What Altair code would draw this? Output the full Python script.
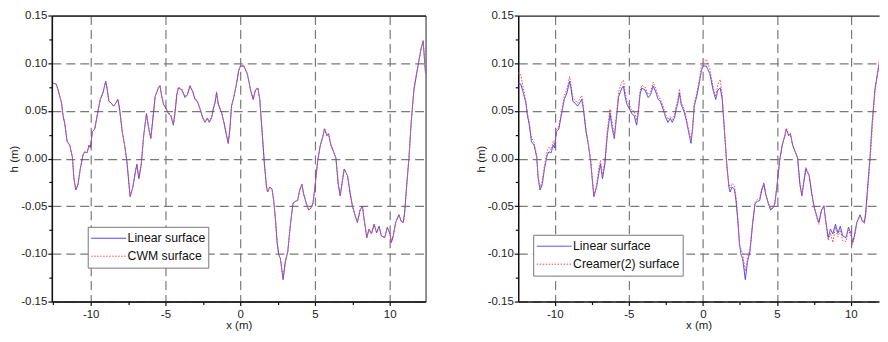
import altair as alt
import pandas as pd

# ---- data ----
x_vals = [-12.5, -12.3, -12.18, -11.95, -11.85, -11.73, -11.58, -11.4, -11.22, -11.13,
          -11.0, -10.85, -10.69, -10.51, -10.4, -10.25, -10.11, -10.02, -9.89, -9.73,
          -9.51, -9.36, -9.18, -9.0, -8.91, -8.78, -8.62, -8.47, -8.33, -8.18,
          -8.07, -7.89, -7.73, -7.58, -7.44, -7.36, -7.18, -7.0, -6.91, -6.78,
          -6.62, -6.45, -6.27, -6.1, -5.98, -5.8, -5.69, -5.47, -5.36, -5.25,
          -5.13, -4.95, -4.8, -4.64, -4.47, -4.36, -4.24, -4.13, -3.91, -3.69,
          -3.53, -3.36, -3.18, -3.02, -2.87, -2.69, -2.51, -2.36, -2.2, -2.07,
          -1.91, -1.8, -1.69, -1.58, -1.47, -1.24, -1.09, -0.91, -0.8, -0.69,
          -0.58, -0.42, -0.24, -0.1, 0.02, 0.24, 0.47, 0.58, 0.69, 0.87,
          1.02, 1.18, 1.31, 1.4, 1.53, 1.62, 1.76, 1.84, 1.98, 2.13,
          2.24, 2.36, 2.47, 2.58, 2.69, 2.87, 3.02, 3.18, 3.36, 3.53,
          3.69, 3.84, 3.98, 4.13, 4.24, 4.42, 4.58, 4.73, 4.87, 5.02,
          5.18, 5.36, 5.53, 5.64, 5.8, 5.91, 6.07, 6.4, 6.56, 6.69,
          6.84, 6.96, 7.18, 7.36, 7.51, 7.73, 7.84, 8.02, 8.18, 8.29,
          8.47, 8.62, 8.78, 8.96, 9.13, 9.29, 9.44, 9.67, 9.84, 10.02,
          10.11, 10.24, 10.4, 10.62, 10.78, 10.91, 11.0, 11.13, 11.29, 11.44,
          11.62, 11.8, 11.96, 12.11, 12.24, 12.4]

linear_h = [0.079, 0.078, 0.072, 0.058, 0.045, 0.036, 0.018, 0.014, 0.001, -0.020,
            -0.033, -0.027, -0.010, 0.004, 0.007, 0.006, 0.014, 0.011, 0.028, 0.031,
            0.050, 0.062, 0.069, 0.081, 0.074, 0.060, 0.058, 0.055, 0.058, 0.062,
            0.052, 0.028, 0.014, -0.003, -0.027, -0.040, -0.030, -0.013, -0.006, -0.021,
            -0.006, 0.025, 0.047, 0.030, 0.021, 0.048, 0.065, 0.074, 0.076, 0.065,
            0.057, 0.052, 0.047, 0.045, 0.035, 0.048, 0.067, 0.074, 0.072, 0.064,
            0.067, 0.076, 0.070, 0.062, 0.060, 0.052, 0.043, 0.038, 0.042, 0.038,
            0.043, 0.052, 0.058, 0.069, 0.057, 0.048, 0.038, 0.024, 0.016, 0.031,
            0.055, 0.065, 0.079, 0.092, 0.097, 0.097, 0.089, 0.081, 0.072, 0.062,
            0.072, 0.074, 0.062, 0.042, 0.014, -0.006, -0.030, -0.035, -0.030, -0.032,
            -0.044, -0.064, -0.088, -0.101, -0.105, -0.127, -0.108, -0.098, -0.069, -0.047,
            -0.045, -0.044, -0.033, -0.027, -0.037, -0.047, -0.054, -0.052, -0.047, -0.027,
            -0.003, 0.014, 0.023, 0.031, 0.024, 0.026, 0.014, 0.001, -0.027, -0.039,
            -0.023, -0.011, -0.018, -0.037, -0.050, -0.062, -0.067, -0.054, -0.050, -0.064,
            -0.083, -0.074, -0.079, -0.069, -0.078, -0.071, -0.081, -0.083, -0.072, -0.079,
            -0.088, -0.081, -0.067, -0.059, -0.066, -0.067, -0.057, -0.030, 0.001, 0.038,
            0.072, 0.089, 0.103, 0.116, 0.123, 0.089]

cwm_h = [0.079, 0.078, 0.072, 0.058, 0.045, 0.036, 0.018, 0.014, 0.001, -0.020,
         -0.033, -0.027, -0.010, 0.004, 0.007, 0.006, 0.014, 0.011, 0.028, 0.031,
         0.050, 0.062, 0.069, 0.081, 0.074, 0.060, 0.058, 0.055, 0.058, 0.062,
         0.052, 0.028, 0.014, -0.003, -0.027, -0.040, -0.030, -0.013, -0.006, -0.021,
         -0.006, 0.025, 0.047, 0.030, 0.021, 0.048, 0.065, 0.075, 0.077, 0.066,
         0.058, 0.053, 0.048, 0.046, 0.036, 0.049, 0.068, 0.075, 0.073, 0.065,
         0.068, 0.077, 0.071, 0.063, 0.061, 0.053, 0.044, 0.039, 0.043, 0.039,
         0.044, 0.053, 0.059, 0.070, 0.058, 0.048, 0.038, 0.024, 0.016, 0.031,
         0.055, 0.065, 0.079, 0.093, 0.097, 0.098, 0.089, 0.081, 0.072, 0.062,
         0.072, 0.074, 0.062, 0.042, 0.014, -0.006, -0.030, -0.035, -0.030, -0.032,
         -0.044, -0.064, -0.088, -0.101, -0.105, -0.126, -0.108, -0.098, -0.069, -0.047,
         -0.045, -0.044, -0.033, -0.027, -0.037, -0.047, -0.054, -0.052, -0.047, -0.027,
         -0.003, 0.014, 0.023, 0.032, 0.024, 0.026, 0.014, 0.001, -0.027, -0.039,
         -0.023, -0.011, -0.018, -0.037, -0.050, -0.062, -0.067, -0.054, -0.050, -0.064,
         -0.083, -0.074, -0.079, -0.069, -0.078, -0.071, -0.081, -0.083, -0.072, -0.079,
         -0.088, -0.081, -0.067, -0.059, -0.066, -0.067, -0.057, -0.030, 0.001, 0.038,
         0.072, 0.089, 0.103, 0.116, 0.124, 0.089]

creamer_h = [0.090, 0.088, 0.078, 0.060, 0.048, 0.038, 0.022, 0.017, 0.003, -0.018,
             -0.030, -0.024, -0.006, 0.008, 0.012, 0.009, 0.018, 0.014, 0.030, 0.034,
             0.052, 0.066, 0.073, 0.086, 0.078, 0.064, 0.061, 0.058, 0.062, 0.066,
             0.055, 0.030, 0.016, -0.001, -0.025, -0.038, -0.028, -0.008, -0.002, -0.018,
             -0.002, 0.030, 0.052, 0.035, 0.025, 0.052, 0.070, 0.080, 0.082, 0.070,
             0.060, 0.056, 0.050, 0.050, 0.040, 0.052, 0.071, 0.077, 0.075, 0.067,
             0.070, 0.080, 0.073, 0.066, 0.062, 0.055, 0.046, 0.041, 0.044, 0.041,
             0.046, 0.055, 0.062, 0.073, 0.060, 0.051, 0.040, 0.027, 0.020, 0.034,
             0.058, 0.068, 0.083, 0.096, 0.101, 0.104, 0.094, 0.085, 0.075, 0.065,
             0.078, 0.083, 0.066, 0.044, 0.012, -0.010, -0.026, -0.031, -0.026, -0.029,
             -0.040, -0.062, -0.092, -0.095, -0.100, -0.118, -0.104, -0.095, -0.067, -0.046,
             -0.043, -0.041, -0.031, -0.025, -0.036, -0.046, -0.053, -0.051, -0.046, -0.027,
             -0.004, 0.014, 0.024, 0.032, 0.025, 0.027, 0.013, 0.000, -0.028, -0.038,
             -0.020, -0.009, -0.017, -0.036, -0.052, -0.064, -0.069, -0.053, -0.049, -0.066,
             -0.086, -0.078, -0.088, -0.072, -0.082, -0.075, -0.086, -0.087, -0.075, -0.082,
             -0.090, -0.083, -0.068, -0.060, -0.064, -0.068, -0.060, -0.036, -0.004, 0.030,
             0.068, 0.090, 0.108, 0.125, 0.135, 0.100]

x_ticks = [-12.5, -10, -7.5, -5, -2.5, 0, 2.5, 5, 7.5, 10, 12.5]
y_ticks = [-0.15, -0.125, -0.1, -0.075, -0.05, -0.025, 0.0, 0.025, 0.05,
           0.075, 0.1, 0.125, 0.15]

LINEAR = "Linear surface"
BLUE = "#3a3af2"
RED = "#f24a4a"
FONT = "Liberation Sans"
PLOT_H = 287

x_minor = "abs(round(datum.value*10)) % 50 != 0"
y_minor = "abs(round(datum.value*1000)) % 50 != 0"
y_top = "datum.value > 0.149"


def panel(other_name, other_vals, xdomain, width, lx, ly, stroke):
    df = pd.DataFrame({
        "x": x_vals * 2,
        "h": linear_h + other_vals,
        "series": [LINEAR] * len(x_vals) + [other_name] * len(x_vals),
    })
    xticks = [v for v in x_ticks if xdomain[0] <= v <= xdomain[1]]
    xaxis = alt.Axis(
        title="x (m)", values=xticks, labelOverlap=False, labelFlush=False,
        labelExpr=f"{x_minor} ? '' : (datum.value < 0 ? '-' : '') + format(abs(datum.value), 'd')",
        tickSize={"condition": {"test": x_minor, "value": 3}, "value": 4},
        gridOpacity={"condition": {"test": x_minor, "value": 0}, "value": 1},
    )
    yaxis = alt.Axis(
        title="h (m)", values=y_ticks, labelOverlap=False, labelFlush=False,
        labelExpr=f"{y_minor} ? '' : (datum.value < 0 ? '-' : '') + format(abs(datum.value), '.2f')",
        tickSize={"condition": {"test": y_minor, "value": 3}, "value": 4},
        gridOpacity={"condition": {"test": y_minor, "value": 0}, "value": 1},
        gridDash={"condition": {"test": y_top, "value": [1, 0]}, "value": [9, 5]},
        gridColor={"condition": {"test": y_top, "value": "#222222"}, "value": "#7a7a7a"},
    )
    legend = alt.Legend(
        title=None, orient="none", legendX=lx, legendY=ly,
        symbolType="stroke", symbolSize=1225, symbolStrokeWidth=1, clipHeight=17,
        labelFontSize=12.3, labelFont=FONT, labelOffset=1, labelColor="#111",
        strokeColor="#777", fillColor="white", padding=3, rowPadding=1,
        symbolOffset=0,
    )
    base = alt.Chart(df).mark_line(strokeWidth=1, clip=True).encode(
        x=alt.X("x:Q", scale=alt.Scale(domain=xdomain, nice=False, zero=False), axis=xaxis),
        y=alt.Y("h:Q", scale=alt.Scale(domain=[-0.15, 0.15], nice=False, zero=False), axis=yaxis),
        color=alt.Color("series:N", scale=alt.Scale(domain=[LINEAR, other_name], range=[BLUE, RED]),
                        legend=legend),
        strokeDash=alt.StrokeDash("series:N",
                                  scale=alt.Scale(domain=[LINEAR, other_name],
                                                  range=[[1, 0], [1.5, 1.5]]),
                                  legend=legend),
        order=alt.Order("x:Q"),
    )
    blue = base.transform_filter(alt.datum.series == LINEAR)
    red = base.transform_filter(alt.datum.series == other_name)
    return alt.layer(blue, red).properties(
        width=width, height=PLOT_H, view=alt.ViewBackground(stroke=stroke, strokeWidth=1)
    )


left = panel("CWM surface", cwm_h, [-12.6, 12.4], 375, 36, 212, "#222222")
right = panel("Creamer(2) surface", creamer_h, [-12.47, 11.9], 362, 15, 220, "transparent")

chart = alt.hconcat(left, right, spacing=48).resolve_scale(
    color="independent", strokeDash="independent"
).properties(
    padding={"left": 0, "top": 0, "right": 0, "bottom": -2}
).configure_axis(
    labelFont=FONT, titleFont=FONT, labelFontSize=11.5, titleFontSize=11.5,
    labelColor="#222", titleColor="#222", titleFontWeight="normal",
    domainColor="#111", domainWidth=1.5, tickColor="#111", tickWidth=1.2,
    labelPadding=1, titlePadding=1,
    grid=True, gridColor="#7a7a7a", gridDash=[9, 5], gridWidth=1.2,
).configure_axisX(
    labelPadding=3, titlePadding=0,
)

chart.save("out.html", embed_options={"renderer": "svg", "actions": False})
